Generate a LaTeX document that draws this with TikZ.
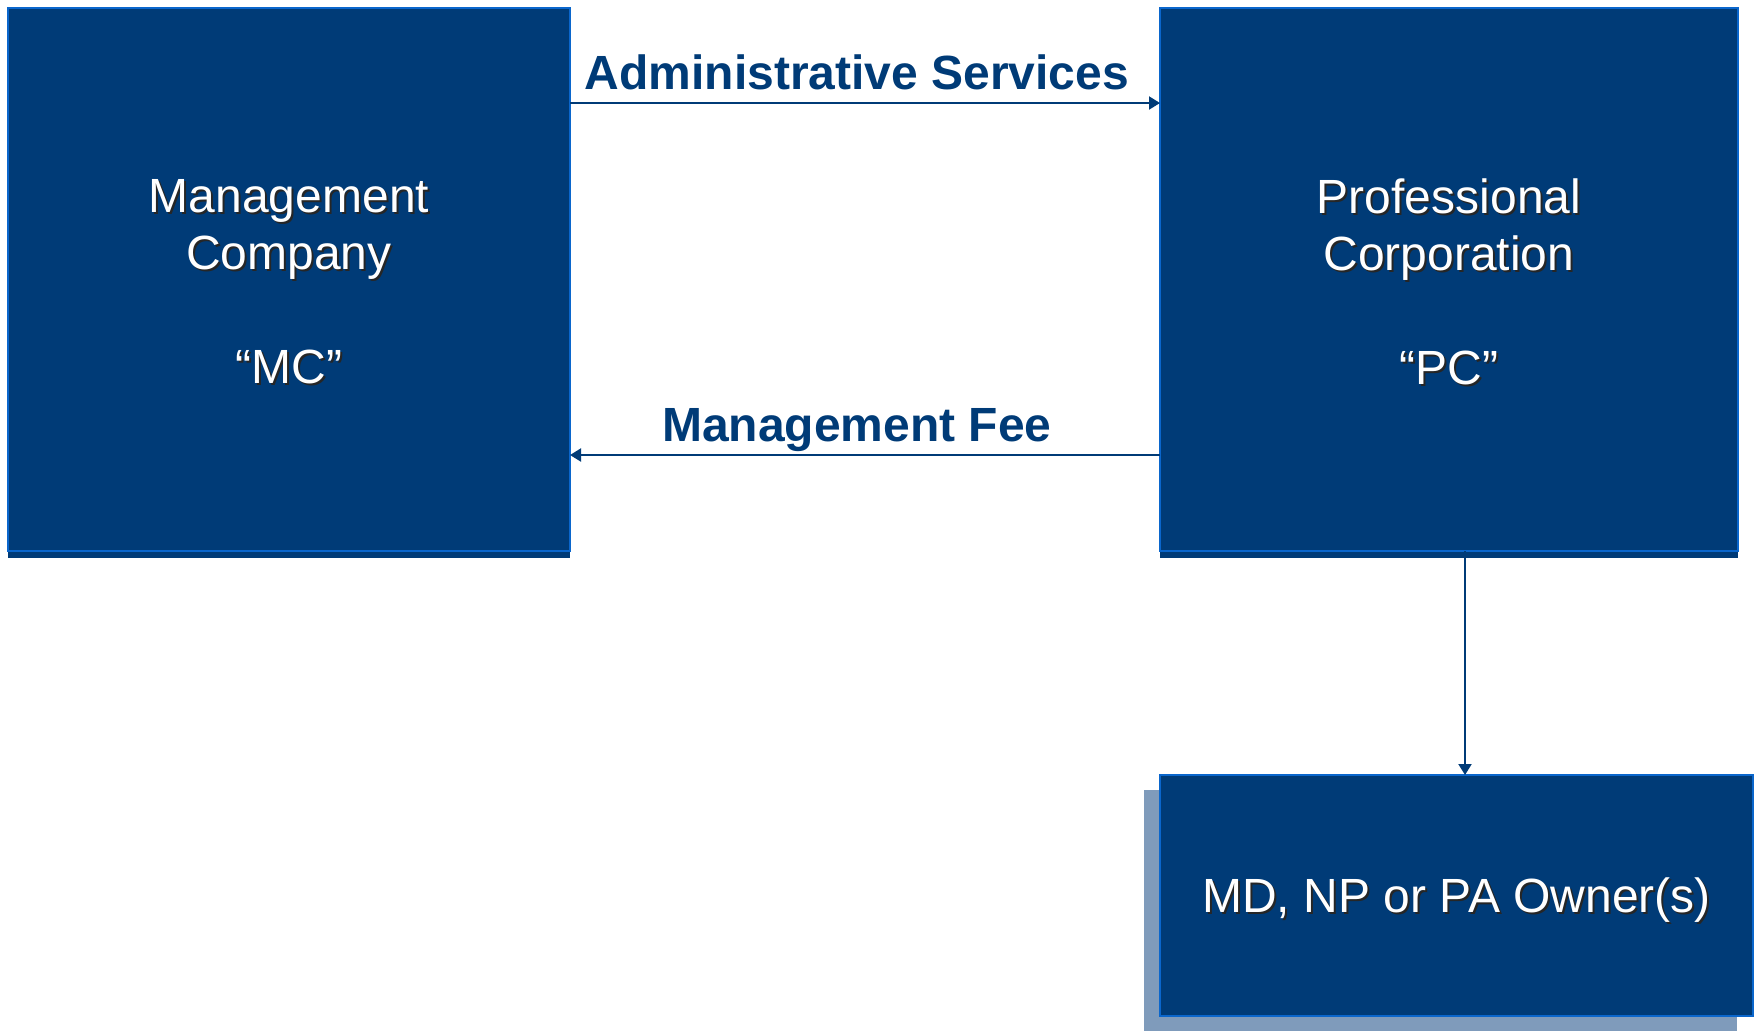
\documentclass[tikz,border=0pt]{standalone}
\usepackage{fontspec}
\setmainfont{Liberation Sans}
\usetikzlibrary{arrows.meta,shadows}

\definecolor{navy}{HTML}{003B77}
\definecolor{edgeblue}{HTML}{0A66CC}
\definecolor{haze}{HTML}{7F9BBB}

% white line of text with a soft dark drop shadow behind it
\newcommand\glowline[1]{\makebox[0pt][l]{\raisebox{-1pt}{\hspace{1pt}\textcolor{black!85}{#1}}}#1}

\tikzset{
  entitybase/.style={rectangle, draw=edgeblue, line width=1pt, fill=navy,
    inner sep=0pt, outer sep=0pt},
  entity/.style={entitybase, general shadow={fill=navy, shadow yshift=-3.5pt}},
  ownerbox/.style={entitybase, general shadow={fill=haze, shadow xshift=-8pt, shadow yshift=-7.5pt}},
  entitytext/.style={text=white, font=\fontsize{24}{28.5}\selectfont, align=center, inner sep=0pt},
  flow/.style={draw=navy, line width=1pt, -{Triangle[length=5.5pt,width=6.5pt]}},
  flowlabel/.style={text=navy, font=\bfseries\fontsize{24}{28}\selectfont,
    inner sep=0pt, anchor=base, xshift=-4pt, yshift=7pt}
}

\begin{document}
\begin{tikzpicture}[x=0.5pt,y=-0.5pt]
\useasboundingbox (0,0) rectangle (1756,1030);

% the three entities
\node[entity, minimum width=281pt, minimum height=271.5pt] (mc) at (289,279.5) {};
\node[entity, minimum width=289pt, minimum height=271.5pt] (pc) at (1449,279.5) {};
\node[ownerbox, minimum width=296.5pt, minimum height=120.5pt] (owner) at (1456.5,895.5) {};

% their captions
\node[entitytext, yshift=-1.8pt] (mctext) at (mc.center)
  {\glowline{Management}\\ \glowline{Company}\\[28.5pt] \glowline{“MC”}};
\node[entitytext, yshift=-1.8pt] (pctext) at (pc.center)
  {\glowline{Professional}\\ \glowline{Corporation}\\[28.5pt] \glowline{“PC”}};
\node[entitytext, yshift=-2.6pt] (ownertext) at (owner.center)
  {\glowline{MD, NP or PA Owner(s)}};

% levels of the connectors
\coordinate (serviceslevel) at (0,103);
\coordinate (feelevel) at (0,455);
\coordinate (ownerline) at (1465,0);

\draw[flow] (mc.east |- serviceslevel) -- node[flowlabel] (services) {Administrative Services} (pc.west |- serviceslevel);
\draw[flow] (pc.west |- feelevel) -- node[flowlabel] (fee) {Management Fee} (mc.east |- feelevel);
\draw[flow] (pc.south -| ownerline) -- (owner.north -| ownerline);
\end{tikzpicture}
\end{document}
